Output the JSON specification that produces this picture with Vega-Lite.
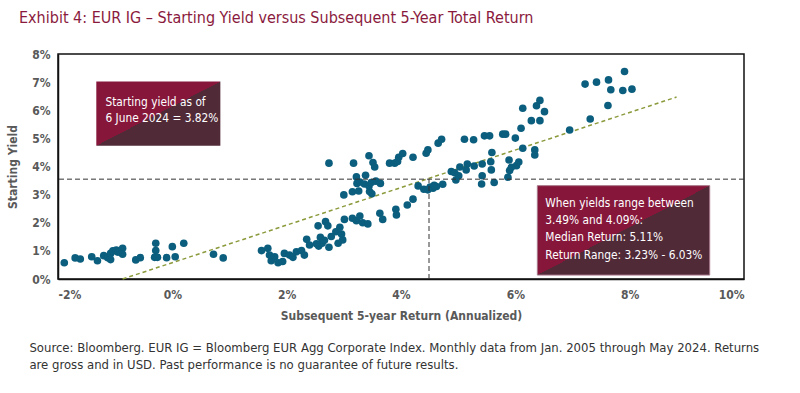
{
  "$schema": "https://vega.github.io/schema/vega-lite/v6.json",
  "width": 686,
  "height": 225,
  "autosize": {"type": "none"},
  "padding": {"left": 58, "top": 54, "right": 56, "bottom": 114},
  "background": "white",
  "title": {
    "text": "Exhibit 4: EUR IG – Starting Yield versus Subsequent 5-Year Total Return",
    "anchor": "start",
    "frame": "group",
    "dx": -39,
    "offset": 22,
    "font": "Liberation Sans Narrow, DejaVu Sans Condensed, sans-serif",
    "fontSize": 16,
    "fontWeight": "normal",
    "color": "#8a1a3d"
  },
  "config": {
    "font": "Liberation Sans Narrow, DejaVu Sans Condensed, sans-serif",
    "view": {"stroke": "#111", "strokeWidth": 1.5},
    "axis": {
      "grid": false,
      "ticks": false,
      "domain": true,
      "domainColor": "#111",
      "domainWidth": 1.5,
      "labelOverlap": false,
      "labelFont": "Liberation Sans Narrow, DejaVu Sans Condensed, sans-serif",
      "labelFontSize": 12,
      "labelFontWeight": "bold",
      "labelColor": "#595959",
      "titleFont": "Liberation Sans Narrow, DejaVu Sans Condensed, sans-serif",
      "titleFontSize": 12,
      "titleFontWeight": "bold",
      "titleColor": "#595959"
    }
  },
  "datasets": {
    "points": [
      {"ret": -1.89, "yld": 0.58}, {"ret": -1.70, "yld": 0.75}, {"ret": -1.61, "yld": 0.71}, {"ret": -1.41, "yld": 0.79},
      {"ret": -1.31, "yld": 0.65}, {"ret": -1.20, "yld": 0.83}, {"ret": -1.13, "yld": 0.76}, {"ret": -1.08, "yld": 0.91},
      {"ret": -1.04, "yld": 1.00}, {"ret": -0.98, "yld": 1.03}, {"ret": -0.87, "yld": 1.09}, {"ret": -0.87, "yld": 0.88},
      {"ret": -1.08, "yld": 0.69}, {"ret": -0.64, "yld": 0.68}, {"ret": -0.56, "yld": 0.76}, {"ret": -0.29, "yld": 1.27},
      {"ret": -0.29, "yld": 1.01}, {"ret": -0.31, "yld": 0.77}, {"ret": -0.26, "yld": 0.77}, {"ret": -0.10, "yld": 0.76},
      {"ret": 0.00, "yld": 1.15}, {"ret": 0.05, "yld": 0.79}, {"ret": 0.20, "yld": 1.27}, {"ret": 0.72, "yld": 0.88},
      {"ret": 0.89, "yld": 0.75}, {"ret": -0.95, "yld": 0.95},
      {"ret": 1.56, "yld": 1.01}, {"ret": 1.67, "yld": 1.09}, {"ret": 1.70, "yld": 0.85}, {"ret": 1.73, "yld": 0.65},
      {"ret": 1.79, "yld": 0.79}, {"ret": 1.85, "yld": 0.58}, {"ret": 1.93, "yld": 0.62}, {"ret": 1.96, "yld": 0.91},
      {"ret": 2.05, "yld": 0.85}, {"ret": 2.11, "yld": 0.77}, {"ret": 2.17, "yld": 0.97}, {"ret": 2.26, "yld": 1.01},
      {"ret": 2.31, "yld": 0.85}, {"ret": 2.35, "yld": 1.41}, {"ret": 2.40, "yld": 1.21}, {"ret": 2.55, "yld": 1.89},
      {"ret": 2.56, "yld": 1.17}, {"ret": 2.59, "yld": 1.48}, {"ret": 2.62, "yld": 1.27}, {"ret": 2.68, "yld": 2.04},
      {"ret": 2.72, "yld": 1.89}, {"ret": 2.74, "yld": 1.13}, {"ret": 2.78, "yld": 1.51}, {"ret": 2.86, "yld": 1.68},
      {"ret": 2.90, "yld": 1.27}, {"ret": 2.93, "yld": 1.84}, {"ret": 2.98, "yld": 1.39}, {"ret": 3.01, "yld": 2.12},
      {"ret": 2.96, "yld": 1.60}, {"ret": 2.66, "yld": 1.38}, {"ret": 2.52, "yld": 1.25},
      {"ret": 2.74, "yld": 4.12}, {"ret": 3.17, "yld": 4.12}, {"ret": 3.44, "yld": 4.38}, {"ret": 3.51, "yld": 4.14},
      {"ret": 3.54, "yld": 3.98}, {"ret": 3.80, "yld": 4.12}, {"ret": 3.89, "yld": 4.12}, {"ret": 3.96, "yld": 4.33},
      {"ret": 3.94, "yld": 4.18}, {"ret": 4.03, "yld": 4.46}, {"ret": 4.21, "yld": 4.33}, {"ret": 4.44, "yld": 4.47},
      {"ret": 4.47, "yld": 4.59}, {"ret": 4.65, "yld": 4.83}, {"ret": 4.71, "yld": 4.97}, {"ret": 5.11, "yld": 4.97},
      {"ret": 5.27, "yld": 4.95}, {"ret": 5.46, "yld": 5.09}, {"ret": 5.55, "yld": 5.09}, {"ret": 5.78, "yld": 5.15},
      {"ret": 5.83, "yld": 5.15}, {"ret": 6.00, "yld": 5.01}, {"ret": 6.10, "yld": 5.36}, {"ret": 6.13, "yld": 6.07},
      {"ret": 6.28, "yld": 5.63}, {"ret": 6.43, "yld": 5.63}, {"ret": 6.37, "yld": 6.16}, {"ret": 6.43, "yld": 6.35},
      {"ret": 6.51, "yld": 5.95},
      {"ret": 3.00, "yld": 2.99}, {"ret": 3.15, "yld": 3.10}, {"ret": 3.26, "yld": 3.13}, {"ret": 3.45, "yld": 3.11},
      {"ret": 3.49, "yld": 3.03}, {"ret": 3.22, "yld": 3.63}, {"ret": 3.38, "yld": 3.69}, {"ret": 3.28, "yld": 3.45},
      {"ret": 3.36, "yld": 3.38}, {"ret": 3.44, "yld": 3.31}, {"ret": 3.48, "yld": 3.43}, {"ret": 3.56, "yld": 3.48},
      {"ret": 3.64, "yld": 3.40}, {"ret": 3.23, "yld": 3.40},
      {"ret": 3.15, "yld": 2.16}, {"ret": 3.22, "yld": 2.07}, {"ret": 3.28, "yld": 2.24}, {"ret": 3.33, "yld": 2.00},
      {"ret": 3.42, "yld": 1.96}, {"ret": 3.63, "yld": 2.34}, {"ret": 3.68, "yld": 2.12}, {"ret": 3.91, "yld": 2.48},
      {"ret": 3.92, "yld": 2.28}, {"ret": 4.11, "yld": 2.63}, {"ret": 4.21, "yld": 2.84},
      {"ret": 4.30, "yld": 3.31}, {"ret": 4.40, "yld": 3.19}, {"ret": 4.47, "yld": 3.17}, {"ret": 4.56, "yld": 3.23},
      {"ret": 4.62, "yld": 3.29}, {"ret": 4.73, "yld": 3.37}, {"ret": 4.51, "yld": 3.27}, {"ret": 4.58, "yld": 3.33},
      {"ret": 4.88, "yld": 3.82}, {"ret": 4.94, "yld": 3.78}, {"ret": 4.96, "yld": 3.52}, {"ret": 5.01, "yld": 3.67},
      {"ret": 5.03, "yld": 3.98}, {"ret": 5.14, "yld": 3.88}, {"ret": 5.16, "yld": 4.09}, {"ret": 5.28, "yld": 4.02},
      {"ret": 5.41, "yld": 3.38}, {"ret": 5.42, "yld": 3.67}, {"ret": 5.42, "yld": 4.09}, {"ret": 5.57, "yld": 4.17},
      {"ret": 5.58, "yld": 3.88}, {"ret": 5.59, "yld": 4.50}, {"ret": 5.63, "yld": 3.43}, {"ret": 5.87, "yld": 3.62},
      {"ret": 5.90, "yld": 3.86}, {"ret": 6.02, "yld": 4.03}, {"ret": 6.06, "yld": 4.16}, {"ret": 5.89, "yld": 4.23},
      {"ret": 6.13, "yld": 4.65}, {"ret": 6.34, "yld": 4.59}, {"ret": 6.34, "yld": 4.41}, {"ret": 5.93, "yld": 3.97},
      {"ret": 6.95, "yld": 5.30}, {"ret": 7.31, "yld": 5.69}, {"ret": 7.62, "yld": 6.17}, {"ret": 7.22, "yld": 6.93},
      {"ret": 7.42, "yld": 7.00}, {"ret": 7.63, "yld": 7.08}, {"ret": 7.67, "yld": 6.73}, {"ret": 7.88, "yld": 6.70},
      {"ret": 8.04, "yld": 6.75}, {"ret": 7.91, "yld": 7.38}
    ],
    "trend": [
      {"ret": -0.87, "yld": 0.0},
      {"ret": 8.82, "yld": 6.47}
    ]
  },
  "layer": [
    {
      "data": {"name": "trend"},
      "mark": {"type": "line", "color": "#8c9a3c", "strokeWidth": 1.5, "strokeDash": [4, 3]},
      "encoding": {
        "x": {"field": "ret", "type": "quantitative", "scale": {"domain": [-2, 10], "nice": false, "zero": false},
          "axis": {"values": [-2, 0, 2, 4, 6, 8, 10], "tickCount": 7, "labelExpr": "datum.value + '%'", "labelPadding": 10,
            "title": "Subsequent 5-year Return (Annualized)", "titlePadding": 10}},
        "y": {"field": "yld", "type": "quantitative", "scale": {"domain": [0, 8], "nice": false},
          "axis": {"values": [0, 1, 2, 3, 4, 5, 6, 7, 8], "tickCount": 9, "labelExpr": "datum.value + '%'", "labelPadding": 8,
            "title": "Starting  Yield", "titlePadding": 12}}
      }
    },
    {
      "data": {"name": "points"},
      "mark": {"type": "circle", "size": 58, "opacity": 1, "color": "#0b5e7d"},
      "encoding": {
        "x": {"field": "ret", "type": "quantitative",
          "axis": {"values": [-2, 0, 2, 4, 6, 8, 10], "tickCount": 7, "labelExpr": "datum.value + '%'", "labelPadding": 10,
            "title": "Subsequent 5-year Return (Annualized)", "titlePadding": 10}},
        "y": {"field": "yld", "type": "quantitative",
          "axis": {"values": [0, 1, 2, 3, 4, 5, 6, 7, 8], "tickCount": 9, "labelExpr": "datum.value + '%'", "labelPadding": 8,
            "title": "Starting  Yield", "titlePadding": 12}}
      }
    },
    {
      "data": {"values": [{}]},
      "mark": {"type": "rule", "color": "#333", "strokeWidth": 1, "strokeDash": [5, 3]},
      "encoding": {"y": {"datum": 3.55, "type": "quantitative",
          "axis": {"values": [0, 1, 2, 3, 4, 5, 6, 7, 8], "tickCount": 9, "labelExpr": "datum.value + '%'", "labelPadding": 8,
            "title": "Starting  Yield", "titlePadding": 12}}}
    },
    {
      "data": {"values": [{}]},
      "mark": {"type": "rule", "color": "#333", "strokeWidth": 1, "strokeDash": [5, 3]},
      "encoding": {"x": {"datum": 4.49, "type": "quantitative"}, "y": {"datum": 0, "type": "quantitative"}, "y2": {"datum": 3.55}}
    },
    {
      "data": {"values": [{}]},
      "mark": {"type": "rect", "fill": {"gradient": "linear", "x1": 0, "y1": 0, "x2": 1, "y2": 1,
        "stops": [{"offset": 0, "color": "#86173b"}, {"offset": 0.5, "color": "#86173b"}, {"offset": 0.5, "color": "#512a38"}, {"offset": 1, "color": "#512a38"}]}},
      "encoding": {"x": {"datum": -1.33, "type": "quantitative"}, "x2": {"datum": 0.84}, "y": {"datum": 7.02, "type": "quantitative"}, "y2": {"datum": 4.74}}
    },
    {
      "data": {"values": [{}]},
      "mark": {"type": "text", "align": "left", "baseline": "alphabetic", "color": "white", "fontSize": 11.8, "lineHeight": 16.6,
        "text": ["Starting yield as of", "6 June 2024 = 3.82%"]},
      "encoding": {"x": {"datum": -1.17, "type": "quantitative"}, "y": {"datum": 6.16, "type": "quantitative"}}
    },
    {
      "data": {"values": [{}]},
      "mark": {"type": "rect", "stroke": "#a8788a", "strokeWidth": 1, "fill": {"gradient": "linear", "x1": 0, "y1": 0, "x2": 1, "y2": 1,
        "stops": [{"offset": 0, "color": "#86173b"}, {"offset": 0.5, "color": "#86173b"}, {"offset": 0.5, "color": "#512a38"}, {"offset": 1, "color": "#512a38"}]}},
      "encoding": {"x": {"datum": 6.385, "type": "quantitative"}, "x2": {"datum": 9.40}, "y": {"datum": 3.32, "type": "quantitative"}, "y2": {"datum": 0.14}}
    },
    {
      "data": {"values": [{}]},
      "mark": {"type": "text", "align": "left", "baseline": "alphabetic", "color": "white", "fontSize": 11.8, "lineHeight": 17.2,
        "text": ["When yields range between", "3.49% and 4.09%:", "Median Return: 5.11%", "Return Range: 3.23% - 6.03%"]},
      "encoding": {"x": {"datum": 6.525, "type": "quantitative"}, "y": {"datum": 2.56, "type": "quantitative"}}
    },
    {
      "data": {"values": [{}]},
      "mark": {"type": "text", "align": "left", "baseline": "alphabetic", "color": "#333", "fontSize": 13, "lineHeight": 17,
        "text": ["Source: Bloomberg. EUR IG = Bloomberg EUR Agg Corporate Index. Monthly data from Jan. 2005 through May 2024. Returns", "are gross and in USD. Past performance is no guarantee of future results."]},
      "encoding": {"x": {"datum": -2.5, "type": "quantitative"}, "y": {"datum": -2.6, "type": "quantitative"}}
    }
  ]
}
